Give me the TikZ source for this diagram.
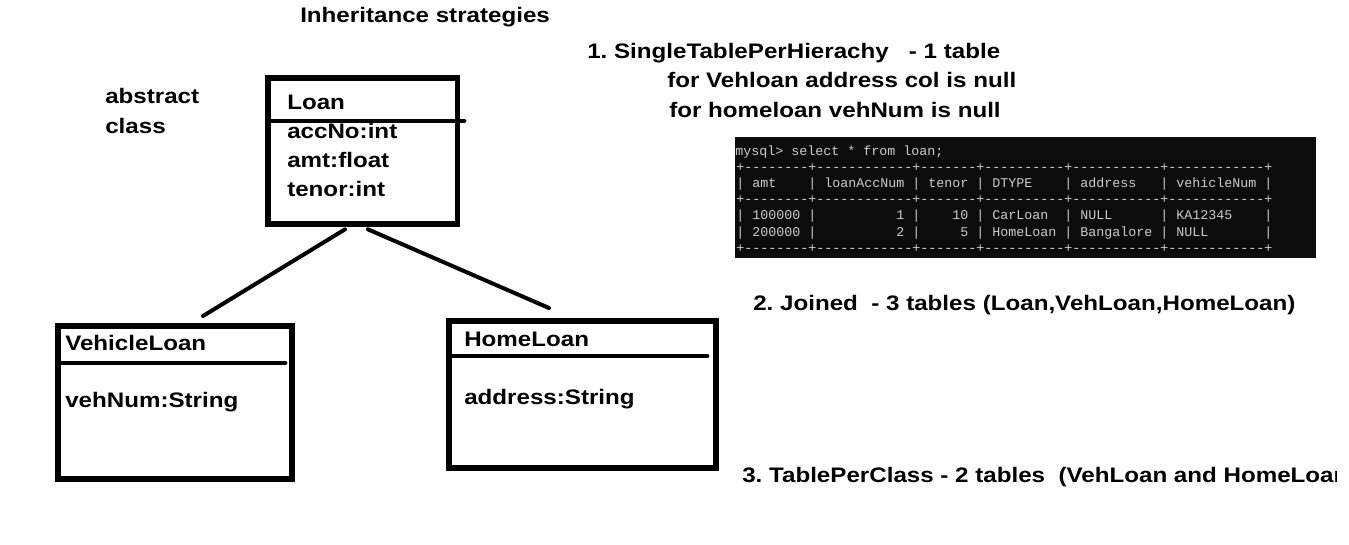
\documentclass[tikz,border=0pt]{standalone}
\usepackage{fontspec}
\setmainfont{Liberation Sans}
\setmonofont{Liberation Mono}
\newfontfamily\pf{Liberation Sans}[FakeStretch=1.15]
\definecolor{termbg}{HTML}{0C0C0C}
\definecolor{termfg}{HTML}{CCCCCC}
\frenchspacing
\begin{document}
\begin{tikzpicture}[x=0.75pt,y=-0.75pt,
  txt/.style={anchor=base west,inner sep=0pt,font=\pf\bfseries\fontsize{15.75}{18}\selectfont},
  term/.style={anchor=base west,inner sep=0pt,text=termfg,font=\ttfamily\fontsize{10}{12}\selectfont},
  classbox/.style={draw,line width=4pt,inner sep=0pt},
  divider/.style={line width=3.6pt,line cap=round},
  link/.style={line width=3pt,line cap=round}]
\useasboundingbox (0,0) rectangle (1349,544);
\clip (0,0) rectangle (1349,544);
\fill[white] (0,0) rectangle (1349,544);

% title and note
\node[txt] (title) at (300,22) {Inheritance strategies};
\node[txt] (abs1) at (105,103) {abstract};
\node[txt] (abs2) at (105,133) {class};

% class boxes
\node[classbox,minimum width=142.1pt,minimum height=109.5pt] (loan) at (362.75,151) {};
\node[classbox,minimum width=175.5pt,minimum height=114.75pt] (veh) at (175,402.5) {};
\node[classbox,minimum width=200.25pt,minimum height=110.25pt] (home) at (582.5,394.5) {};

\draw[divider] (268,121) -- (464,121);
\draw[divider] (58,363) -- (285,363);
\draw[divider] (449,356) -- (707,356);

\node[txt] (loanname) at (287,109) {Loan};
\node[txt] (loana1) at (287,138) {accNo:int};
\node[txt] (loana2) at (287,167) {amt:float};
\node[txt] (loana3) at (287,196) {tenor:int};

\node[txt] (vehname) at (65,350) {VehicleLoan};
\node[txt] (veha1) at (65,407) {vehNum:String};

\node[txt] (homename) at (464,346) {HomeLoan};
\node[txt] (homea1) at (464,404) {address:String};

% inheritance connectors
\coordinate (vehtop) at (203,316);
\coordinate (hometop) at (549,308);
\draw[link] ([xshift=-13.3pt,yshift=-2pt]loan.south) -- (vehtop);
\draw[link] ([xshift=3.9pt,yshift=-2pt]loan.south) -- (hometop);

% strategies
\node[txt] (s1) at (587,58) {1. SingleTablePerHierachy\ \ \ - 1 table};
\node[txt] (s1a) at (667,87) {for Vehloan address col is null};
\node[txt] (s1b) at (669,117) {for homeloan vehNum is null};
\node[txt] (s2) at (753,310) {2. Joined\ \ - 3 tables (Loan,VehLoan,HomeLoan)};
\begin{scope}
\clip (700,440) rectangle (1336,500);
\node[txt] (s3) at (742,482) {3. TablePerClass - 2 tables\ \ (VehLoan and HomeLoan};
\end{scope}

% terminal screenshot
\node[fill=termbg,inner sep=0pt,minimum width=435.75pt,minimum height=90.75pt] (termbox) at (1025.5,197.5) {};
\node[term] (t1) at (735,155) {mysql>~select~*~from~loan;};
\node[term] (t2) at (736,171.2) {+--------+------------+-------+----------+-----------+------------+};
\node[term] (t3) at (736,187.4) {|~amt~~~~|~loanAccNum~|~tenor~|~DTYPE~~~~|~address~~~|~vehicleNum~|};
\node[term] (t4) at (736,203.6) {+--------+------------+-------+----------+-----------+------------+};
\node[term] (t5) at (736,219.8) {|~100000~|~~~~~~~~~~1~|~~~~10~|~CarLoan~~|~NULL~~~~~~|~KA12345~~~~|};
\node[term] (t6) at (736,236) {|~200000~|~~~~~~~~~~2~|~~~~~5~|~HomeLoan~|~Bangalore~|~NULL~~~~~~~|};
\node[term] (t7) at (736,252.2) {+--------+------------+-------+----------+-----------+------------+};
\end{tikzpicture}
\end{document}
